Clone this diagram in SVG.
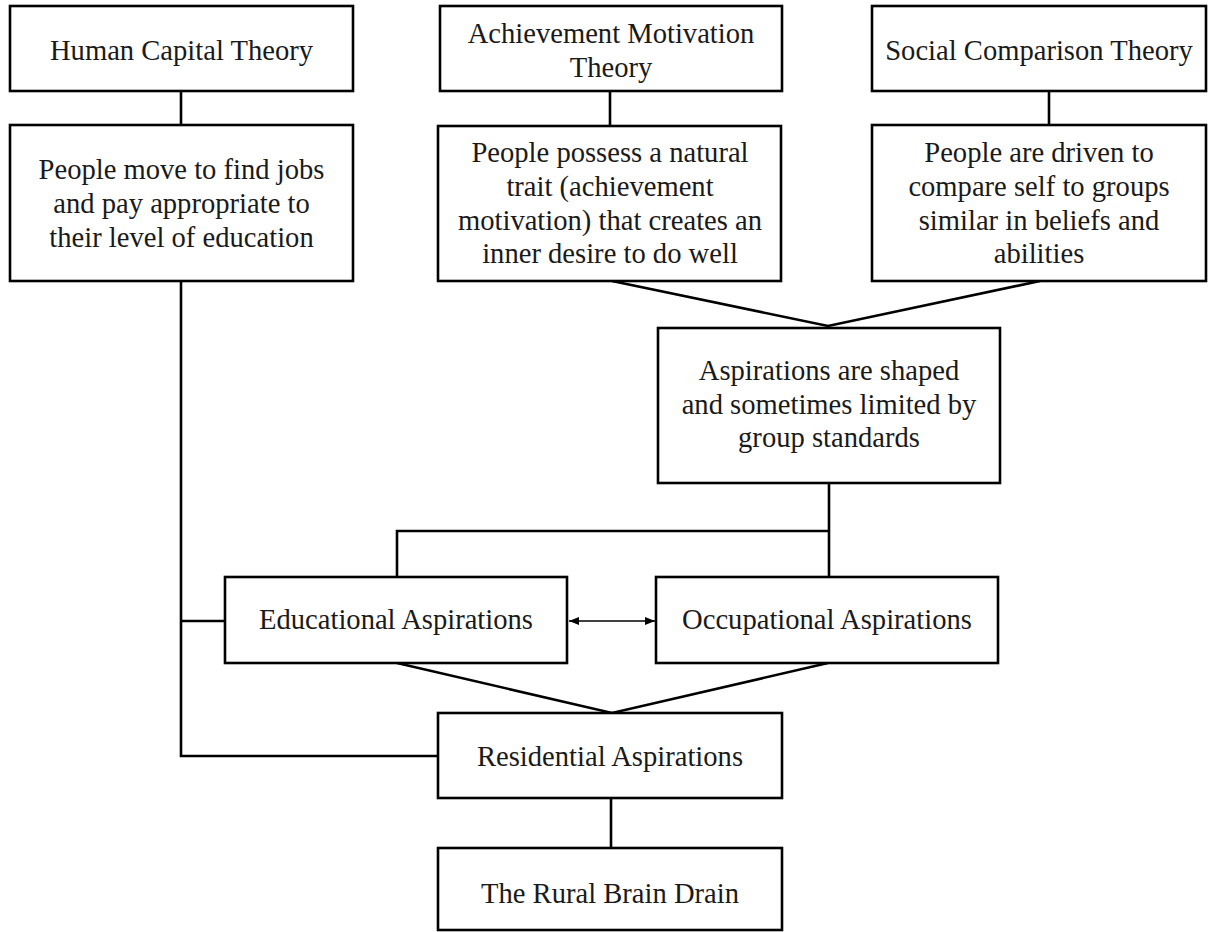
<svg xmlns="http://www.w3.org/2000/svg" width="1212" height="932" viewBox="0 0 1212 932">
<style>
.box{fill:#fff;stroke:#000;stroke-width:2.6}
.t{font-family:"Liberation Serif","Times New Roman",serif;font-size:28.6px;fill:#1a1a1a;text-anchor:middle}
.c{fill:none;stroke:#000;stroke-width:2.6}
.a{fill:none;stroke:#000;stroke-width:1.4}
</style>
<defs>
<marker id="ah" viewBox="0 0 10 10" refX="10" refY="5" markerWidth="10" markerHeight="10" markerUnits="userSpaceOnUse" orient="auto-start-reverse">
<path d="M0,1 L10,5 L0,9 Z" fill="#000"/>
</marker>
</defs>
<rect width="1212" height="932" fill="#fff"/>
<g id="connectors">
<line class="c" x1="181" y1="91" x2="181" y2="125"/>
<line class="c" x1="610" y1="91" x2="610" y2="126"/>
<line class="c" x1="1049" y1="91" x2="1049" y2="125"/>
<polyline class="c" points="181,281 181,756 438,756"/>
<line class="c" x1="181" y1="621" x2="225" y2="621"/>
<polyline class="c" points="612,281 828,326 1040,281"/>
<line class="c" x1="829" y1="483" x2="829" y2="577"/>
<polyline class="c" points="829,531 397,531 397,577"/>
<polyline class="c" points="397,663 612,713 828,663"/>
<line class="c" x1="611" y1="798" x2="611" y2="848"/>
<line class="a" x1="569" y1="621" x2="655" y2="621" marker-start="url(#ah)" marker-end="url(#ah)"/>
</g>
<g id="n-human">
<rect class="box" x="10" y="6" width="343" height="85"/>
<text class="t" x="181.5" y="60">Human Capital Theory</text>
</g>
<g id="n-achieve">
<rect class="box" x="440" y="6" width="342" height="85"/>
<text class="t" x="611" y="43">Achievement Motivation</text>
<text class="t" x="611" y="77">Theory</text>
</g>
<g id="n-social">
<rect class="box" x="872" y="6" width="334" height="85"/>
<text class="t" x="1039" y="60">Social Comparison Theory</text>
</g>
<g id="n-human2">
<rect class="box" x="10" y="125" width="343" height="156"/>
<text class="t" x="181.5" y="179">People move to find jobs</text>
<text class="t" x="181.5" y="213">and pay appropriate to</text>
<text class="t" x="181.5" y="247">their level of education</text>
</g>
<g id="n-achieve2">
<rect class="box" x="438" y="126" width="343" height="155"/>
<text class="t" x="610" y="162">People possess a natural</text>
<text class="t" x="610" y="196">trait (achievement</text>
<text class="t" x="610" y="230">motivation) that creates an</text>
<text class="t" x="610" y="263">inner desire to do well</text>
</g>
<g id="n-social2">
<rect class="box" x="872" y="125" width="334" height="156"/>
<text class="t" x="1039" y="162">People are driven to</text>
<text class="t" x="1039" y="196">compare self to groups</text>
<text class="t" x="1039" y="230">similar in beliefs and</text>
<text class="t" x="1039" y="263">abilities</text>
</g>
<g id="n-aspshape">
<rect class="box" x="658" y="328" width="342" height="155"/>
<text class="t" x="829" y="380">Aspirations are shaped</text>
<text class="t" x="829" y="414">and sometimes limited by</text>
<text class="t" x="829" y="447">group standards</text>
</g>
<g id="n-edu">
<rect class="box" x="225" y="577" width="342" height="86"/>
<text class="t" x="396" y="629">Educational Aspirations</text>
</g>
<g id="n-occ">
<rect class="box" x="656" y="577" width="342" height="86"/>
<text class="t" x="827" y="629">Occupational Aspirations</text>
</g>
<g id="n-res">
<rect class="box" x="438" y="713" width="344" height="85"/>
<text class="t" x="610" y="766">Residential Aspirations</text>
</g>
<g id="n-rural">
<rect class="box" x="438" y="848" width="344" height="82"/>
<text class="t" x="610" y="903">The Rural Brain Drain</text>
</g>
</svg>
